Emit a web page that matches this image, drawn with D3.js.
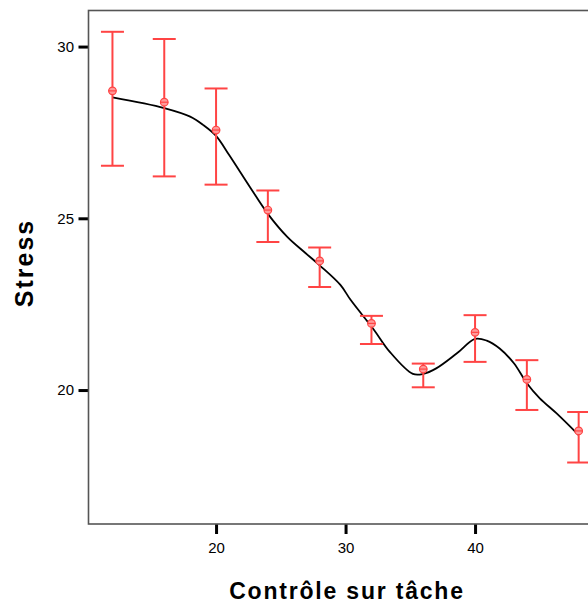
<!DOCTYPE html>
<html>
<head>
<meta charset="utf-8">
<script src="https://cdn.jsdelivr.net/npm/d3@7"></script>
<style>
  body { margin: 0; background: #fff; }
  svg { display: block; font-family: "Liberation Sans", Arial, sans-serif; }
</style>
</head>
<body>
<div id="chart"></div>
<script>
// DATA
var xCats = [12, 16, 20, 24, 28, 32, 36, 40, 44, 48];
var means = [28.71, 28.38, 27.57, 25.24, 23.76, 21.94, 20.61, 21.68, 20.31, 18.81];
var upper = [30.43, 30.22, 28.78, 25.81, 24.15, 22.16, 20.77, 22.18, 20.87, 19.36];
var lower = [26.53, 26.22, 25.98, 24.31, 23.00, 21.34, 20.08, 20.82, 19.42, 17.89];

// fitted line
var fitX = [12, 16, 18, 19, 20, 21, 22.6, 24, 25.5, 26.9, 28, 29.6, 30.4, 32.2, 33.4, 35.2, 36, 37, 38.6, 40, 40.9, 41.9, 43, 44, 45, 46.3, 48];
var fitY = [28.52, 28.21, 27.96, 27.72, 27.40, 26.85, 25.92, 25.13, 24.46, 23.99, 23.63, 23.06, 22.62, 21.75, 21.12, 20.47, 20.47, 20.63, 21.07, 21.49, 21.44, 21.21, 20.78, 20.20, 19.76, 19.32, 18.69];

var xTicks = [20, 30, 40];
var yTicks = [20, 25, 30];

var W = 588, H = 603;
var mLeft = 88.5, mTop = 10.5, mBottom = 524;

document.addEventListener('DOMContentLoaded', function () {
  draw();
}, false);

function draw() {
  var svg = d3.select("#chart").append("svg")
    .attr("width", W)
    .attr("height", H);

  var x = d3.scaleLinear().domain([10.15, 50]).range([mLeft, mLeft + 39.85 * 12.95]);
  var y = d3.scaleLinear().domain([16.10, 31.05]).range([mBottom, mTop]);

  // axes with thick outward ticks
  var xAxis = svg.append("g")
    .attr("transform", "translate(0," + mBottom + ")")
    .call(d3.axisBottom(x).tickValues(xTicks).tickSize(10).tickPadding(8).tickFormat(d3.format("d")));
  var yAxis = svg.append("g")
    .attr("transform", "translate(" + mLeft + ",0)")
    .call(d3.axisLeft(y).tickValues(yTicks).tickSize(10).tickPadding(4.5).tickFormat(d3.format("d")));

  [xAxis, yAxis].forEach(function(a){
    a.attr("font-size", 15).attr("font-family", null);
    a.select(".domain").remove();
    a.selectAll(".tick line").attr("stroke", "#000").attr("stroke-width", 3);
    a.selectAll(".tick text").attr("fill", "#000");
  });

  // plot frame (right side runs off the page)
  svg.append("rect")
    .attr("x", mLeft)
    .attr("y", mTop)
    .attr("width", x(50) - mLeft + 20)
    .attr("height", mBottom - mTop)
    .attr("fill", "none")
    .attr("stroke", "#555")
    .attr("stroke-width", 1.6);

  // fit line
  var pts = fitX.map(function(d, i){ return [d, fitY[i]]; });
  var line = d3.line()
    .x(function(d){ return x(d[0]); })
    .y(function(d){ return y(d[1]); })
    .curve(d3.curveCatmullRom.alpha(0.5));
  svg.append("path")
    .datum(pts)
    .attr("d", line)
    .attr("fill", "none")
    .attr("stroke", "#000")
    .attr("stroke-width", 1.8);

  // error bars
  var red = "#ff4444";
  var data = xCats.map(function(d, i){
    return { x: d, m: means[i], hi: upper[i], lo: lower[i] };
  });
  var bars = svg.append("g").selectAll("g")
    .data(data)
    .enter()
    .append("g");

  bars.append("line")
    .attr("x1", function(d){ return x(d.x); })
    .attr("x2", function(d){ return x(d.x); })
    .attr("y1", function(d){ return y(d.hi); })
    .attr("y2", function(d){ return y(d.lo); })
    .attr("stroke", red)
    .attr("stroke-width", 2);
  bars.append("line")
    .attr("x1", function(d){ return x(d.x) - 11.5; })
    .attr("x2", function(d){ return x(d.x) + 11.5; })
    .attr("y1", function(d){ return y(d.hi); })
    .attr("y2", function(d){ return y(d.hi); })
    .attr("stroke", red)
    .attr("stroke-width", 2);
  bars.append("line")
    .attr("x1", function(d){ return x(d.x) - 11.5; })
    .attr("x2", function(d){ return x(d.x) + 11.5; })
    .attr("y1", function(d){ return y(d.lo); })
    .attr("y2", function(d){ return y(d.lo); })
    .attr("stroke", red)
    .attr("stroke-width", 2);

  // markers
  bars.append("circle")
    .attr("cx", function(d){ return x(d.x); })
    .attr("cy", function(d){ return y(d.m); })
    .attr("r", 3.8)
    .attr("fill", "#ff9a9a")
    .attr("stroke", red)
    .attr("stroke-width", 1.2);
  bars.append("line")
    .attr("x1", function(d){ return x(d.x) - 4; })
    .attr("x2", function(d){ return x(d.x) + 4; })
    .attr("y1", function(d){ return y(d.m); })
    .attr("y2", function(d){ return y(d.m); })
    .attr("stroke", red)
    .attr("stroke-width", 1.2);

  // titles
  svg.append("text")
    .attr("x", 347)
    .attr("y", 599)
    .attr("text-anchor", "middle")
    .style("font-size", "23px")
    .style("font-weight", "bold")
    .style("letter-spacing", "1.8px")
    .text("Contrôle sur tâche");

  svg.append("text")
    .attr("transform", "translate(33,263) rotate(-90)")
    .attr("text-anchor", "middle")
    .style("font-size", "25px")
    .style("font-weight", "bold")
    .style("letter-spacing", "2px")
    .text("Stress");
}
</script>
</body>
</html>
